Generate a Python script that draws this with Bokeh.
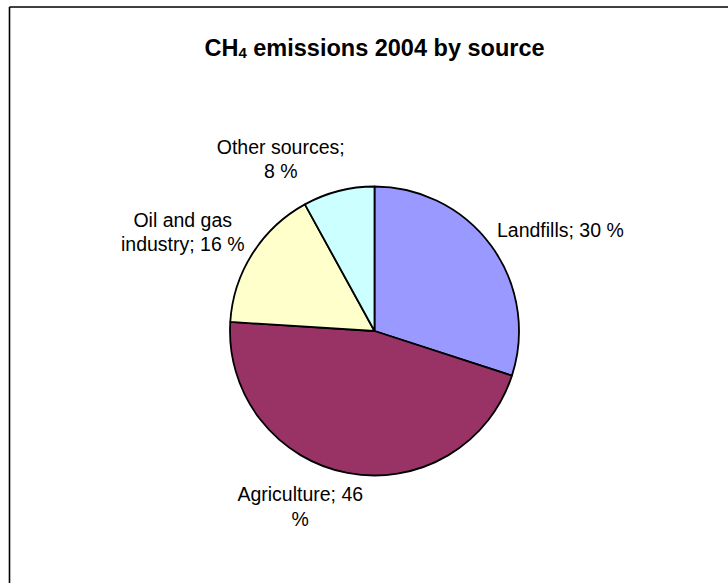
import math
from bokeh.plotting import figure
from bokeh.models import Range1d, ColumnDataSource
from bokeh.core.properties import value
from bokeh.embed import file_html
from bokeh.resources import INLINE

# CH4 emissions 2004, share by source (percent)
sources = ["Landfills", "Agriculture", "Oil and gas industry", "Other sources"]
shares = [30, 46, 16, 8]
colors = ["#9999FF", "#993366", "#FFFFCC", "#CCFFFF"]
label_lines = [["Landfills; 30 %"],
               ["Agriculture; 46", "%"],
               ["Oil and gas", "industry; 16 %"],
               ["Other sources;", "8 %"]]

W, H = 728, 583
FONT = "Liberation Sans"

p = figure(width=W, height=H, output_backend="svg", toolbar_location=None,
           x_range=Range1d(0, W), y_range=Range1d(0, H),
           min_border=0, min_border_left=0, min_border_right=0,
           min_border_top=0, min_border_bottom=0)
p.axis.visible = False
p.grid.visible = False
p.outline_line_color = None
p.background_fill_color = "white"
p.border_fill_color = "white"

# chart-area border (top and left edges visible, the rest runs off the page)
p.line([9, 9], [H - 6.5, -20], line_color="black", line_width=1.6)
p.line([9, W + 20], [H - 6.5, H - 6.5], line_color="black", line_width=1.6)

# pie: clockwise from twelve o'clock
cx, cy, r = 374, H - 330.5, 144.5
total = sum(shares)
starts, ends, mids = [], [], []
acc = 0.0
for s in shares:
    a0 = acc / total
    acc += s
    a1 = acc / total
    starts.append(math.pi / 2 - a0 * 2 * math.pi)
    ends.append(math.pi / 2 - a1 * 2 * math.pi)
    mids.append((a0 + a1) / 2 * 2 * math.pi)

src = ColumnDataSource(dict(x=[cx] * len(shares), y=[cy] * len(shares),
                            start=starts, end=ends, color=colors))
p.wedge(x="x", y="y", radius=r, start_angle="start", end_angle="end",
        direction="clock", fill_color="color", line_color="black",
        line_width=1.8, source=src)

# data labels placed outside each slice, offset from the slice's mid-angle
label_dist = [165, 172, 175, 160]
label_shift = [(-11, 4), (-42, -6.5), (-44, 5), (-54, 17)]
label_align = ["left", "center", "center", "center"]
line_h = 24.5
for lines, mid, d, (sx, sy), al in zip(label_lines, mids, label_dist,
                                       label_shift, label_align):
    ax = cx + d * math.sin(mid) + sx
    ay = cy + d * math.cos(mid) + sy
    n = len(lines)
    for i, t in enumerate(lines):
        yy = ay + (n - 1) * line_h / 2 - i * line_h
        p.text(x=[ax], y=[yy], text=[t], text_align=al,
               text_baseline="middle", text_font=value(FONT),
               text_font_size="19.5px", text_color="black")

# title with subscript 4
TS = 23.5
w_ch = 1.444 * TS
w_sub = 0.556 * 15
w_space = 0.278 * TS
w_rest = 12.395 * TS
x0 = cx - (w_ch + w_sub + w_space + w_rest) / 2
base = H - 47
p.text(x=[x0], y=[base], text=["CH"], text_align="left",
       text_baseline="alphabetic", text_font=value(FONT),
       text_font_size=f"{TS}px", text_font_style="bold", text_color="black")
p.text(x=[x0 + w_ch], y=[base - 5], text=["4"], text_align="left",
       text_baseline="alphabetic", text_font=value(FONT),
       text_font_size="15px", text_font_style="bold", text_color="black")
p.text(x=[x0 + w_ch + w_sub + w_space], y=[base], text=["emissions 2004 by source"],
       text_align="left", text_baseline="alphabetic", text_font=value(FONT),
       text_font_size=f"{TS}px", text_font_style="bold", text_color="black")

open("out.html", "w").write(file_html(p, INLINE))
